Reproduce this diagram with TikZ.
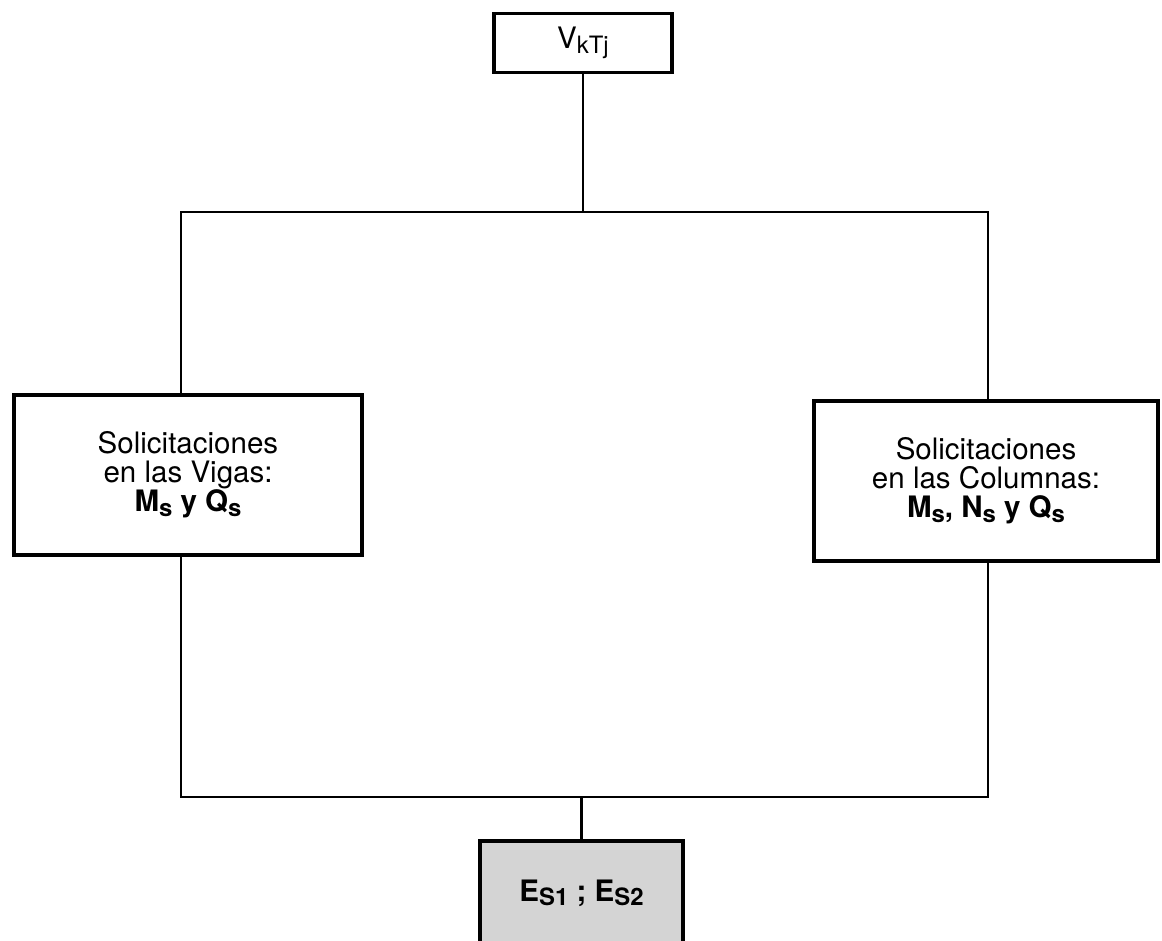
\documentclass[tikz,border=0pt]{standalone}
\usepackage{fontspec}
\setmainfont{TeX Gyre Heros}
\usetikzlibrary{calc}
\newcommand{\sbi}[1]{\raisebox{-0.3ex}{\fontsize{17}{17}\selectfont #1}}

\begin{document}
\begin{tikzpicture}[x=0.025cm,y=-0.025cm,
    caja/.style={draw,line width=2.6pt,align=center,inner sep=0pt,
      font=\fontsize{21}{20.5}\selectfont},
    linea/.style={line width=1.5pt}]
  \clip (0,0) rectangle (1162,940);
  \fill[white] (0,0) rectangle (1162,940);

  % cajas
  \node[caja,minimum width=4.45cm,minimum height=1.475cm] (vk) at (583,43) {V\sbi{kTj}};
  \node[caja,minimum width=8.7cm,minimum height=4cm] (vigas) at (188,475)
    {Solicitaciones\\en las Vigas:\\\textbf{M\sbi{s} y Q\sbi{s}}};
  \node[caja,minimum width=8.6cm,minimum height=4cm] (columnas) at (986,481)
    {Solicitaciones\\en las Columnas:\\\textbf{M\sbi{s}, N\sbi{s} y Q\sbi{s}}};
  \node[caja,fill=black!17,minimum width=5.075cm,minimum height=2.6cm] (es) at (581.5,893)
    {\textbf{E\sbi{S1} ; E\sbi{S2}}};

  \coordinate (tl) at (181,212);
  \coordinate (tr) at (988,212);
  \coordinate (bl) at (181,797);
  \coordinate (br) at (988,797);

  % conexiones
  \draw[linea] (vk.south) -- (vk.south |- tl);
  \draw[linea] (vigas.north -| tl) -- (tl) -- (tr) -- (columnas.north -| tr);
  \draw[linea] (vigas.south -| bl) -- (bl) -- (br) -- (columnas.south -| br);
  \draw[linea] (es.north) -- (es.north |- bl);
\end{tikzpicture}
\end{document}
